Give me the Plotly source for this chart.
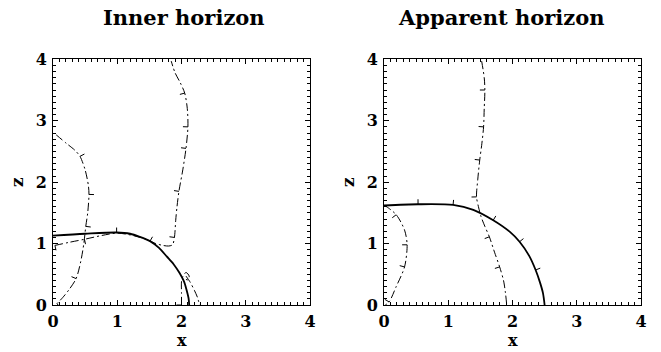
import numpy as np
import plotly.graph_objects as go

# ---------------- data ----------------
# Inner horizon panel
inner_solid_x = [0.0, 0.5, 0.99, 1.2, 1.35, 1.51, 1.65, 1.77, 1.88, 1.97, 2.04, 2.08, 2.11, 2.12]
inner_solid_z = [1.13, 1.16, 1.18, 1.16, 1.11, 1.04, 0.93, 0.79, 0.66, 0.52, 0.38, 0.24, 0.11, 0.0]
inner_solid_hatch = [(2, 1), (5, 1)]

inner_a_x = [0.05, 0.21, 0.34, 0.42, 0.50, 0.55, 0.56, 0.54, 0.51, 0.48, 0.43, 0.36, 0.25, 0.15, 0.06]
inner_a_z = [2.77, 2.63, 2.52, 2.42, 2.20, 1.95, 1.80, 1.50, 1.28, 1.00, 0.70, 0.43, 0.25, 0.12, 0.02]
inner_a_hatch = [(3, 1), (6, 1), (8, 1), (11, -1), (14, 1)]

inner_b_x = [0.03, 0.25, 0.49, 0.75, 1.0, 1.25, 1.45, 1.60, 1.71, 1.80, 1.86, 1.89, 1.91, 1.93, 1.96,
             2.02, 2.07, 2.10, 2.09, 2.05, 1.98, 1.90, 1.84]
inner_b_z = [0.97, 1.02, 1.07, 1.13, 1.17, 1.13, 1.07, 1.00, 0.97, 0.96, 0.98, 1.10, 1.38, 1.60, 1.85,
             2.20, 2.55, 2.90, 3.20, 3.45, 3.62, 3.78, 3.97]
inner_b_hatch = [(0, -1), (2, -1), (11, 1), (14, 1), (16, 1), (17, 1), (19, 1)]

inner_c_x = [2.0, 2.0, 2.0, 2.02, 2.07, 2.12, 2.10, 2.04]
inner_c_z = [0.0, 0.20, 0.38, 0.46, 0.53, 0.47, 0.41, 0.43]
inner_c_hatch = [(0, 1)]

inner_d_x = [2.07, 2.13, 2.20, 2.25, 2.28]
inner_d_z = [0.47, 0.38, 0.24, 0.12, 0.0]
inner_d_hatch = []

# Apparent horizon panel
app_solid_x = [0.0, 0.53, 1.075, 1.39, 1.70, 1.96, 2.11, 2.26, 2.36, 2.43, 2.475, 2.50]
app_solid_z = [1.62, 1.64, 1.63, 1.55, 1.38, 1.19, 1.03, 0.80, 0.57, 0.36, 0.19, 0.0]
app_solid_hatch = [(1, 1), (2, 1), (4, 1), (6, 1), (8, 1)]

app_a_x = [1.52, 1.56, 1.57, 1.56, 1.55, 1.52, 1.49, 1.46, 1.44, 1.47, 1.51, 1.57, 1.64, 1.72, 1.80, 1.86, 1.89, 1.91]
app_a_z = [3.97, 3.70, 3.50, 3.20, 2.90, 2.60, 2.36, 2.05, 1.76, 1.60, 1.44, 1.28, 1.11, 0.86, 0.62, 0.40, 0.20, 0.0]
app_a_hatch = [(2, -1), (4, -1), (6, -1), (8, -1), (12, -1), (14, -1)]

app_b_x = [0.0, 0.04, 0.19, 0.32, 0.36, 0.32, 0.19, 0.08, 0.02]
app_b_z = [1.62, 1.60, 1.47, 1.22, 0.98, 0.62, 0.30, 0.05, 0.0]
app_b_hatch = [(2, -1), (4, -1), (5, -1), (7, -1)]

panel_titles = ["Inner horizon", "Apparent horizon"]
tick_vals = [0, 1, 2, 3, 4]
axis_range = [0, 4]

# ---------------- layout constants ----------------
W, H = 661, 352
left_dom = [53 / W, 310 / W]
right_dom = [384 / W, 641 / W]
y_dom = [47 / H, 292.7 / H]

FONT = "DejaVu Serif"
DASH = "8px,3px,2px,3px"
HATCH_LEN = 5.0

# pixels per data unit (identical for both panels)
sx = (left_dom[1] - left_dom[0]) * W / (axis_range[1] - axis_range[0])
sz = (y_dom[1] - y_dom[0]) * H / (axis_range[1] - axis_range[0])


def hatch_segments(xs, zs, marks):
    """Short perpendicular tick marks on a curve, placed at given point indices."""
    hx, hz = [], []
    n = len(xs)
    for i, side in marks:
        i0, i1 = max(i - 1, 0), min(i + 1, n - 1)
        tx = (xs[i1] - xs[i0]) * sx
        tz = (zs[i1] - zs[i0]) * sz
        norm = np.hypot(tx, tz)
        nx, nz = -tz / norm * side, tx / norm * side
        hx += [xs[i], xs[i] + nx * HATCH_LEN / sx, None]
        hz += [zs[i], zs[i] + nz * HATCH_LEN / sz, None]
    return hx, hz


fig = go.Figure()


def add_curve(xs, zs, marks, xa, ya, solid):
    fig.add_trace(go.Scatter(
        x=xs, y=zs, mode="lines", xaxis=xa, yaxis=ya,
        line=dict(color="black", width=1.8 if solid else 1.0,
                  dash="solid" if solid else DASH, shape="spline", smoothing=0.8),
        hoverinfo="skip", showlegend=False))
    if marks:
        hx, hz = hatch_segments(xs, zs, marks)
        fig.add_trace(go.Scatter(
            x=hx, y=hz, mode="lines", xaxis=xa, yaxis=ya,
            line=dict(color="black", width=1.0),
            hoverinfo="skip", showlegend=False))


add_curve(inner_a_x, inner_a_z, inner_a_hatch, "x", "y", False)
add_curve(inner_b_x, inner_b_z, inner_b_hatch, "x", "y", False)
add_curve(inner_c_x, inner_c_z, inner_c_hatch, "x", "y", False)
add_curve(inner_d_x, inner_d_z, inner_d_hatch, "x", "y", False)
add_curve(inner_solid_x, inner_solid_z, inner_solid_hatch, "x", "y", True)

add_curve(app_a_x, app_a_z, app_a_hatch, "x2", "y2", False)
add_curve(app_b_x, app_b_z, app_b_hatch, "x2", "y2", False)
add_curve(app_solid_x, app_solid_z, app_solid_hatch, "x2", "y2", True)

tick_font = dict(family=FONT, size=16, color="black", weight="bold")


def axis(dom, anchor, standoff):
    return dict(
        domain=dom, anchor=anchor, range=axis_range, automargin=False,
        tickvals=tick_vals, ticktext=[str(v) for v in tick_vals],
        ticks="inside", ticklen=5, tickwidth=1, tickcolor="black",
        minor=dict(dtick=0.1, ticks="inside", ticklen=3, tickwidth=1, tickcolor="black"),
        showline=True, linecolor="black", linewidth=1, mirror="ticks",
        showgrid=False, zeroline=False, tickfont=tick_font, fixedrange=True,
        ticklabelstandoff=standoff,
    )


annotations = []
for cx, title in zip([184, 501], panel_titles):
    annotations.append(dict(
        x=cx / W, y=1 - 17.5 / H, xref="paper", yref="paper", text=title, showarrow=False,
        xanchor="center", yanchor="middle",
        font=dict(family=FONT, size=21, color="black", weight="bold")))
for cx in [181.5, 512.5]:
    annotations.append(dict(
        x=cx / W, y=1 - 340 / H, xref="paper", yref="paper", text="x", showarrow=False,
        xanchor="center", yanchor="middle", borderpad=0,
        font=dict(family=FONT, size=16, color="black", weight="bold")))
for cx in [17, 348]:
    annotations.append(dict(
        x=cx / W, y=1 - 182 / H, xref="paper", yref="paper", text="z", showarrow=False,
        xanchor="center", yanchor="middle", textangle=-90,
        font=dict(family=FONT, size=17, color="black", weight="bold")))

fig.update_layout(
    width=W, height=H, margin=dict(l=0, r=0, t=0, b=0),
    paper_bgcolor="white", plot_bgcolor="white",
    xaxis=axis(left_dom, "y", 2), yaxis=axis(y_dom, "x", 2),
    xaxis2=axis(right_dom, "y2", 2), yaxis2=axis(y_dom, "x2", 2),
    annotations=annotations, showlegend=False,
)

fig.write_html("out.html")
